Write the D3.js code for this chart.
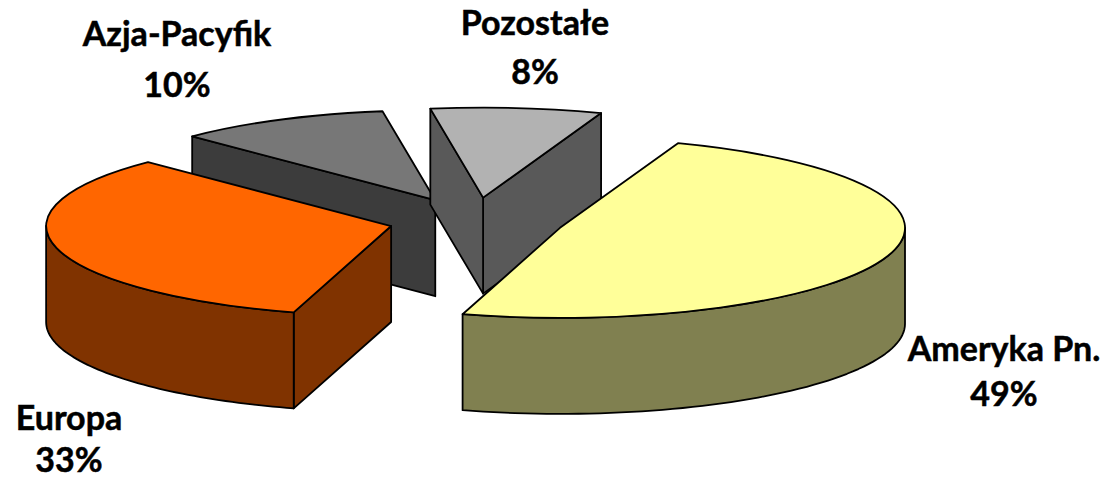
<!DOCTYPE html>
<html><head><meta charset="utf-8">
<script src="https://cdn.jsdelivr.net/npm/d3@7"></script>
<style>html,body{margin:0;padding:0;background:#fff}svg{display:block}</style></head>
<body><svg id="c" width="1108" height="479"></svg>
<script>
const categories = ["Ameryka Pn.", "Europa", "Azja-Pacyfik", "Pozostałe"];
const shares = [49, 33, 10, 8];
const topColors = ["#ffff99", "#ff6600", "#777777", "#b2b2b2"];
const wallColors = ["#808050", "#803300", "#3c3c3c", "#595959"];
const explodeBy = [90, 86, 87, 88];
const startSides = [false, true, true, true];
const endSides = [false, false, false, true];
const labelX = [1004, 69, 177, 535];
const labelY = [361, 430, 46, 35];
const valueY = [406, 472, 97, 84];

const W = 1108, H = 479;
const cx = 474.5, cy = 220.5, rx = 345, tilt = 0.261, depth = 96, firstAngle = 20;
const toRad = d3.scaleLinear().domain([0, 360]).range([0, 2 * Math.PI]);
const svg = d3.select("#c");

const pie = d3.pie().sort(null).value(d => d.v)
  .startAngle(toRad(firstAngle)).endAngle(toRad(firstAngle + 360));
const slices = pie(shares.map((v, i) => ({v, i})));
const arc = d3.arc().innerRadius(0).outerRadius(rx);
const ex = a => Math.sin(a) * rx;
const ey = a => -Math.cos(a) * rx * tilt;
const line = d3.line();

const drawOrder = [2, 3, 1, 0];
drawOrder.forEach(i => {
  const s = slices[i];
  const mid = (s.startAngle + s.endAngle) / 2;
  const ox = cx + Math.sin(mid) * explodeBy[i];
  const oy = cy - Math.cos(mid) * explodeBy[i] * tilt;
  const g = svg.append("g").attr("transform", `translate(${ox},${oy})`);
  const face = (pts, fill) => g.append("path").attr("d", line(pts) + "Z")
    .attr("fill", fill).attr("stroke", "#000").attr("stroke-width", 1.8).attr("stroke-linejoin", "round");
  const side = a => face([[0, 0], [ex(a), ey(a)], [ex(a), ey(a) + depth], [0, depth]], wallColors[i]);
  if (endSides[i]) side(s.endAngle);
  if (startSides[i]) side(s.startAngle);
  // outer wall: only the part of the rim on the viewer's side
  const a0 = Math.max(s.startAngle, toRad(90)), a1 = Math.min(s.endAngle, toRad(270));
  if (a1 > a0) {
    const as = d3.range(0, 61).map(k => d3.interpolateNumber(a0, a1)(k / 60));
    const pts = as.map(a => [ex(a), ey(a)]).concat(as.slice().reverse().map(a => [ex(a), ey(a) + depth]));
    face(pts, wallColors[i]);
  }
  g.append("path").attr("d", arc(s)).attr("transform", `scale(1,${tilt})`)
    .attr("fill", topColors[i]).attr("stroke", "#000").attr("stroke-width", 1.8)
    .attr("stroke-linejoin", "round").attr("vector-effect", "non-scaling-stroke");
});

const labels = svg.append("g").attr("font-family", "Lato, sans-serif").attr("font-weight", 700)
  .attr("font-size", 34).attr("fill", "#000").attr("stroke", "#000").attr("stroke-width", 0.5)
  .attr("text-anchor", "middle");
categories.forEach((c, i) => {
  labels.append("text").attr("x", labelX[i]).attr("y", labelY[i]).text(c);
  labels.append("text").attr("x", labelX[i]).attr("y", valueY[i]).text(shares[i] + "%");
});
</script></body></html>
